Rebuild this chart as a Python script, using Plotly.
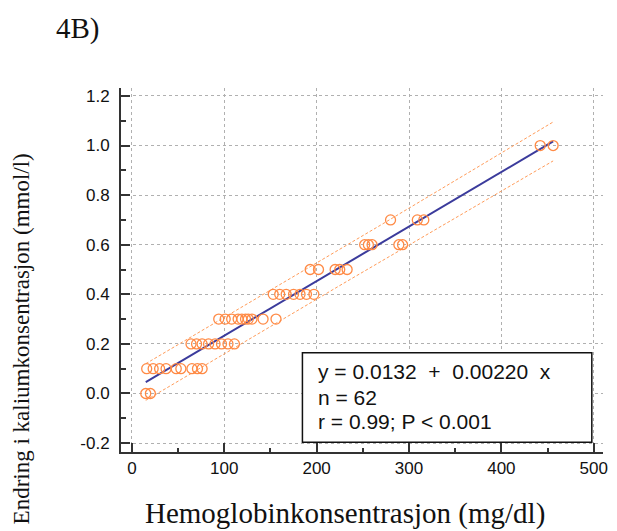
import numpy as np
import plotly.graph_objects as go

# --- data ---
hb = [15, 20,
      16, 23, 30, 37, 48, 53, 65, 71, 76,
      64, 70, 76, 83, 90, 97, 104, 111,
      94, 101, 108, 115, 119, 123, 126, 130, 142, 156,
      153, 160, 167, 175, 182, 189, 197,
      193, 202, 220, 225, 233,
      252, 256, 260, 289, 293,
      280, 309, 316,
      442, 456]
dk = [0.0, 0.0,
      0.1, 0.1, 0.1, 0.1, 0.1, 0.1, 0.1, 0.1, 0.1,
      0.2, 0.2, 0.2, 0.2, 0.2, 0.2, 0.2, 0.2,
      0.3, 0.3, 0.3, 0.3, 0.3, 0.3, 0.3, 0.3, 0.3, 0.3,
      0.4, 0.4, 0.4, 0.4, 0.4, 0.4, 0.4,
      0.5, 0.5, 0.5, 0.5, 0.5,
      0.6, 0.6, 0.6, 0.6, 0.6,
      0.7, 0.7, 0.7,
      1.0, 1.0]

intercept = 0.0132
slope = 0.00220
n_total = 62
resid_sd = 0.036
t_val = 2.0

x_ticks = [0, 100, 200, 300, 400, 500]
y_ticks = [-0.2, 0.0, 0.2, 0.4, 0.6, 0.8, 1.0, 1.2]
y_ticklabels = ["-0.2", "0.0", "0.2", "0.4", "0.6", "0.8", "1.0", "1.2"]

stats_lines = ["y = 0.0132\u00a0\u00a0+\u00a0\u00a00.00220\u00a0\u00a0x",
               "n = 62",
               "r = 0.99; P < 0.001"]

# --- regression line and prediction band ---
xa = np.array(hb, dtype=float)
xfit = np.linspace(xa.min(), xa.max(), 100)
yfit = intercept + slope * xfit
xbar = xa.mean()
sxx = ((xa - xbar) ** 2).sum()
hw = t_val * resid_sd * np.sqrt(1 + 1 / n_total + (xfit - xbar) ** 2 / sxx)

ORANGE = "#FF8A45"
BAND = "#FF9C5A"
NAVY = "#3B3B9C"

fig = go.Figure()
fig.add_trace(go.Scatter(x=xfit, y=yfit + hw, mode="lines",
                         line=dict(color=BAND, width=1, dash="3px,2px"),
                         hoverinfo="skip", showlegend=False))
fig.add_trace(go.Scatter(x=xfit, y=yfit - hw, mode="lines",
                         line=dict(color=BAND, width=1, dash="3px,2px"),
                         hoverinfo="skip", showlegend=False))
fig.add_trace(go.Scatter(x=xfit, y=yfit, mode="lines",
                         line=dict(color=NAVY, width=2),
                         showlegend=False))
fig.add_trace(go.Scatter(x=hb, y=dk, mode="markers",
                         marker=dict(symbol="circle-open", size=10,
                                     color=ORANGE, line=dict(width=1.3, color=ORANGE)),
                         showlegend=False))

axis_common = dict(
    showline=True, linecolor="#333333", linewidth=2, mirror=False,
    ticks="inside", ticklen=9, tickwidth=2, tickcolor="#333333",
    showgrid=True, gridcolor="#B0B0B0", gridwidth=1, griddash="dot",
    zeroline=False,
    tickfont=dict(family="Liberation Sans, Arial", size=17, color="#111111"),
)

fig.update_xaxes(range=[-11.8, 510], tickvals=x_ticks,
                 minor=dict(dtick=50, tick0=0, ticks="inside", ticklen=4,
                            tickwidth=1.5, tickcolor="#333333", showgrid=False),
                 **axis_common)
fig.update_yaxes(range=[-0.236, 1.232], tickvals=y_ticks, ticktext=y_ticklabels,
                 ticklabelstandoff=6,
                 minor=dict(dtick=0.1, tick0=0, ticks="inside", ticklen=5,
                            tickwidth=1.5, tickcolor="#333333", showgrid=False),
                 **axis_common)

# stats box
fig.add_shape(type="rect", xref="paper", yref="paper",
              x0=0.3764, x1=0.9768, y0=0.0266, y1=0.2728,
              line=dict(color="#111111", width=1.5), fillcolor="white", layer="above")
line_y = [0.2206, 0.1503, 0.0832]
for txt, yy in zip(stats_lines, line_y):
    fig.add_annotation(text=txt, xref="paper", yref="paper", x=0.4045, y=yy,
                       xanchor="left", yanchor="middle", showarrow=False,
                       font=dict(family="Liberation Sans, Arial", size=21, color="#111111"))

serif = "Liberation Serif, Times New Roman, serif"
fig.add_annotation(text="4B)", xref="paper", yref="paper", x=-0.138, y=1.163,
                   xanchor="left", yanchor="middle", showarrow=False,
                   font=dict(family=serif, size=29, color="#111111"))
fig.add_annotation(text="Hemoglobinkonsentrasjon (mg/dl)", xref="paper", yref="paper",
                   x=0.465, y=-0.168, xanchor="center", yanchor="middle", showarrow=False,
                   font=dict(family=serif, size=29, color="#111111"))
fig.add_annotation(text="Endring i kaliumkonsentrasjon (mmol/l)", xref="paper", yref="paper",
                   x=-0.207, y=0.31, xanchor="center", yanchor="middle", textangle=-90,
                   showarrow=False, font=dict(family=serif, size=23, color="#111111"))

# the page adds an 8px body margin, so the figure is sized to fit the window
fig.update_layout(width=609, height=523,
                  margin=dict(l=113, r=9, t=80, b=79),
                  paper_bgcolor="white", plot_bgcolor="white")

fig.write_html("out.html")
